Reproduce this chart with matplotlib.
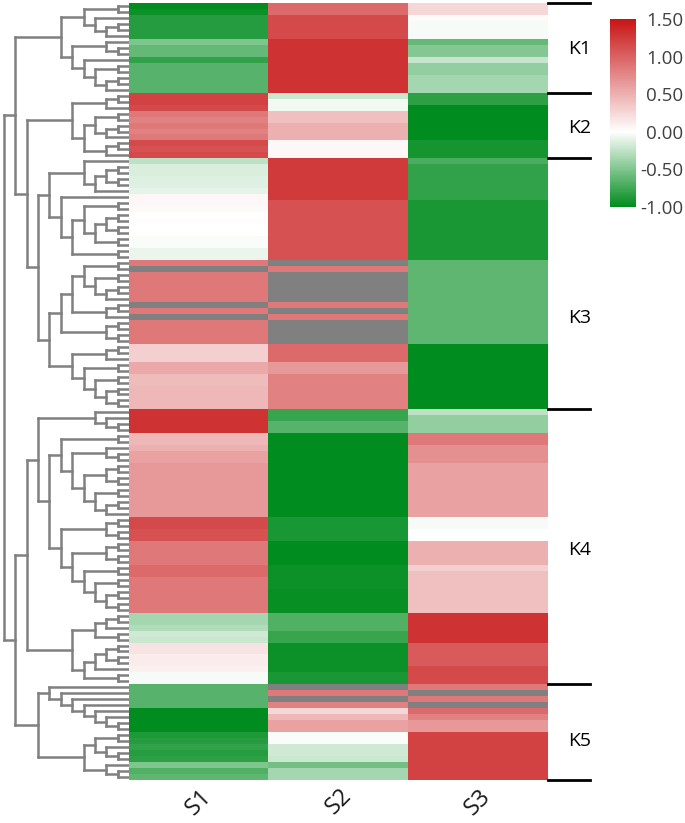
import numpy as np
import matplotlib
matplotlib.use('Agg')
import matplotlib.pyplot as plt
from matplotlib.colors import LinearSegmentedColormap
from matplotlib.collections import LineCollection
from matplotlib.transforms import blended_transform_factory
from matplotlib.ticker import FormatStrFormatter

plt.rcParams['font.family'] = ['Open Sans', 'DejaVu Sans']
plt.rcParams['axes.unicode_minus'] = False

# 数据：每行一个基因，三列样本
samples = ['S1', 'S2', 'S3']
cluster_names = ['K1', 'K2', 'K3', 'K4', 'K5']
cluster_sizes = [15, 11, 42, 46, 16]
nan = np.nan

s1 = ([-1.0, -0.95] + [-0.85] * 4 + [-0.5, -0.6, -0.6, -0.8] + [-0.65] * 5
      + [1.2, 1.2, 1.15, 0.85, 0.8, 0.85, 0.8, 0.85, 1.15, 1.1, 1.15]
      + [-0.25, -0.15, -0.15, -0.13, -0.13, -0.1, 0.05, 0.05, 0.03, 0.0, 0.01, 0.0, 0.0,
         -0.02, -0.02, -0.08, -0.08, 0.85, nan, 0.85, 0.85, 0.85, 0.85, 0.85, nan, 0.85,
         nan, 0.85, 0.85, 0.85, 0.85, 0.3, 0.3, 0.3, 0.55, 0.55, 0.42, 0.42,
         0.45, 0.45, 0.45, 0.45]
      + [1.3] * 4 + [0.45, 0.45, 0.5, 0.6, 0.6] + [0.65] * 9 + [1.15, 1.15, 1.1, 1.1]
      + [0.85] * 4 + [0.95, 0.95] + [0.85] * 6
      + [-0.35, -0.35, -0.3, -0.18, -0.2, 0.18, 0.18, 0.12, 0.12, 0.1, -0.03, -0.03]
      + [-0.65] * 4 + [-1.0] * 4 + [-0.88, -0.85, -0.8, -0.85, -0.82, -0.5, -0.68, -0.62])

s2 = ([0.95, 0.95] + [1.15] * 4 + [1.3] * 9
      + [-0.2, -0.05, -0.05, 0.4, 0.4, 0.5, 0.5, 0.5, 0.05, 0.05, 0.05]
      + [1.25] * 7 + [1.1] * 10 + [nan, 0.85] + [nan] * 5 + [0.85, nan, 0.85] + [nan] * 4
      + [0.95] * 3 + [0.65, 0.65, 0.8, 0.8] + [0.8] * 4
      + [-0.78, -0.78, -0.65, -0.65] + [-1.0] * 14 + [-0.9] * 4 + [-1.0] * 4
      + [-0.95] * 4 + [-0.97] * 4 + [-0.68] * 3 + [-0.78, -0.78] + [-0.95] * 5 + [-0.9, -0.9]
      + [nan, 0.85, nan, 0.8, 0.25, 0.45, 0.6, 0.6, -0.02, -0.02, -0.18, -0.18, -0.2,
         -0.55, -0.35, -0.35])

s3 = ([0.25, 0.25, 0.03, -0.03, -0.03, -0.03, -0.6, -0.48, -0.48, -0.22, -0.42, -0.42,
       -0.35, -0.35, -0.35]
      + [-0.82, -0.82] + [-1.0] * 6 + [-0.92] * 3
      + [-0.7] + [-0.8] * 6 + [-0.9] * 10 + [-0.62] * 14 + [-1.0] * 11
      + [-0.25] + [-0.42] * 3 + [0.85, 0.85] + [0.7] * 3 + [0.6] * 9
      + [-0.03, -0.03, 0.0, 0.0] + [0.5] * 4 + [0.3] + [0.4] * 7 + [1.3] * 5
      + [1.05] * 4 + [1.15] * 3
      + [0.85, nan, 0.85, nan, 0.95, 0.8, 0.65, 0.65] + [1.2] * 8)

data = np.column_stack([s1, s2, s3])
n_rows = data.shape[0]
filled = np.nan_to_num(data, nan=0.0)


# 顺序约束的层次聚类（只合并相邻簇），用来画左侧树
def join(a, b, segs):
    d = max(a['depth'], b['depth']) + 1
    segs.append([(a['depth'], a['y']), (d, a['y'])])
    segs.append([(b['depth'], b['y']), (d, b['y'])])
    segs.append([(d, a['y']), (d, b['y'])])
    n = a['n'] + b['n']
    mean = (a['mean'] * a['n'] + b['mean'] * b['n']) / n
    return dict(y=(a['y'] + b['y']) / 2, depth=d, n=n, mean=mean)


def cluster_block(nodes, segs):
    nodes = list(nodes)
    while len(nodes) > 1:
        best = None
        for i in range(len(nodes) - 1):
            a, b = nodes[i], nodes[i + 1]
            w = a['n'] * b['n'] / (a['n'] + b['n']) * np.sum((a['mean'] - b['mean']) ** 2)
            key = (round(w, 6), a['n'] + b['n'])
            if best is None or key < best[0]:
                best = (key, i)
        i = best[1]
        nodes[i:i + 2] = [join(nodes[i], nodes[i + 1], segs)]
    return nodes[0]


segs = []
bounds = np.concatenate([[0], np.cumsum(cluster_sizes)])
trees = []
for k in range(len(cluster_sizes)):
    leaves = [dict(y=float(i), depth=0, n=1, mean=filled[i]) for i in range(bounds[k], bounds[k + 1])]
    trees.append(cluster_block(leaves, segs))
top_a = join(trees[0], join(trees[1], trees[2], segs), segs)
top_b = join(trees[3], trees[4], segs)
root = join(top_a, top_b, segs)

# 颜色
cmap = LinearSegmentedColormap.from_list(
    'gwr', [(0.0, '#008C1E'), (0.4, '#FFFFFF'), (1.0, '#C81414')])
cmap.set_bad('#808080')

fig = plt.figure(figsize=(6.85, 8.23), dpi=100)
H = 777 / 823
B = 43 / 823
ax_d = fig.add_axes([0.0, B, 129 / 685, H])
ax = fig.add_axes([129 / 685, B, 419 / 685, H])
cax = fig.add_axes([610 / 685, 616 / 823, 26 / 685, 188 / 823])

# 树
ax_d.add_collection(LineCollection(segs, colors='#808080', linewidths=1.8, capstyle='projecting'))
ax_d.set_xlim(root['depth'] + 0.35, 0)
ax_d.set_ylim(n_rows - 0.5, -0.5)
ax_d.axis('off')

# 热图
im = ax.imshow(np.ma.masked_invalid(data), cmap=cmap, vmin=-1, vmax=1.5,
               aspect='auto', interpolation='nearest')
for sp in ax.spines.values():
    sp.set_visible(False)
ax.set_yticks([])
ax.set_xticks(range(len(samples)))
ax.set_xticklabels(samples, rotation=45, ha='center', va='top', fontsize=17, color='#1a1a1a')
ax.tick_params(axis='x', length=0, pad=3)

# 分群线与标签
tr = blended_transform_factory(ax.transAxes, ax.transData)
for b in bounds:
    ax.plot([1.0, 1.1], [b - 0.5, b - 0.5], transform=tr, color='black', lw=2, clip_on=False)
label_rows = [7.2, 20.4, 52.2, 91.1, 122.9]
for name, yr in zip(cluster_names, label_rows):
    ax.text(1.076, yr, name, transform=tr, ha='center', va='center', fontsize=14, color='black')

# 色条
cb = fig.colorbar(im, cax=cax, ticks=[-1.0, -0.5, 0.0, 0.5, 1.0, 1.5])
cb.outline.set_visible(False)
cb.ax.yaxis.set_major_formatter(FormatStrFormatter('%.2f'))
cax.tick_params(length=0, pad=34, labelsize=13.5, labelcolor='#404040')
for t in cax.get_yticklabels():
    t.set_horizontalalignment('right')

fig.savefig('out.png', dpi=100)
